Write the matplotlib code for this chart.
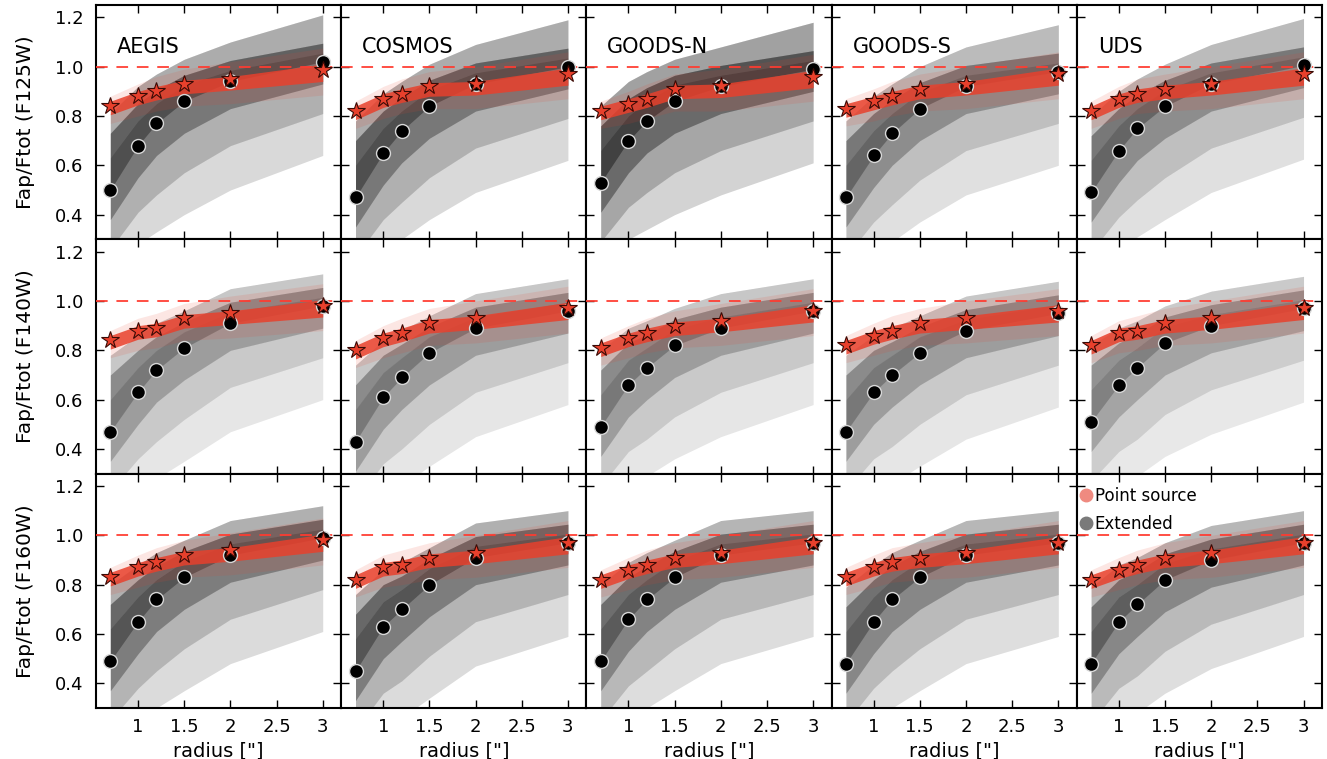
import numpy as np
import matplotlib
matplotlib.use("Agg")
import matplotlib.pyplot as plt
from matplotlib.lines import Line2D

# ---------------- data ----------------
fields = ["AEGIS", "COSMOS", "GOODS-N", "GOODS-S", "UDS"]
filters = ["F125W", "F140W", "F160W"]
radii = [0.7, 1.0, 1.2, 1.5, 2.0, 3.0]

# median point-source curves (stars), rows = filters, cols = fields
ps_median = [
    [[0.84, 0.88, 0.90, 0.93, 0.95, 0.985],
     [0.82, 0.87, 0.89, 0.92, 0.93, 0.97],
     [0.82, 0.85, 0.87, 0.91, 0.92, 0.96],
     [0.83, 0.86, 0.88, 0.91, 0.93, 0.97],
     [0.82, 0.87, 0.89, 0.91, 0.93, 0.97]],
    [[0.84, 0.88, 0.89, 0.93, 0.95, 0.98],
     [0.80, 0.85, 0.87, 0.91, 0.93, 0.97],
     [0.81, 0.85, 0.87, 0.90, 0.92, 0.96],
     [0.82, 0.86, 0.88, 0.91, 0.93, 0.96],
     [0.82, 0.87, 0.88, 0.91, 0.93, 0.97]],
    [[0.83, 0.87, 0.89, 0.92, 0.94, 0.98],
     [0.82, 0.87, 0.88, 0.91, 0.93, 0.97],
     [0.82, 0.86, 0.88, 0.91, 0.93, 0.97],
     [0.83, 0.87, 0.89, 0.91, 0.93, 0.97],
     [0.82, 0.86, 0.88, 0.91, 0.93, 0.97]],
]

# median extended-source curves (circles)
ext_median = [
    [[0.50, 0.68, 0.77, 0.86, 0.94, 1.02],
     [0.47, 0.65, 0.74, 0.84, 0.93, 1.00],
     [0.53, 0.70, 0.78, 0.86, 0.92, 0.99],
     [0.47, 0.64, 0.73, 0.83, 0.92, 0.98],
     [0.49, 0.66, 0.75, 0.84, 0.93, 1.005]],
    [[0.47, 0.63, 0.72, 0.81, 0.91, 0.98],
     [0.43, 0.61, 0.69, 0.79, 0.89, 0.96],
     [0.49, 0.66, 0.73, 0.82, 0.89, 0.96],
     [0.47, 0.63, 0.70, 0.79, 0.88, 0.95],
     [0.51, 0.66, 0.73, 0.83, 0.90, 0.97]],
    [[0.49, 0.65, 0.74, 0.83, 0.92, 0.99],
     [0.45, 0.63, 0.70, 0.80, 0.91, 0.97],
     [0.49, 0.66, 0.74, 0.83, 0.92, 0.97],
     [0.48, 0.65, 0.74, 0.83, 0.92, 0.97],
     [0.48, 0.65, 0.72, 0.82, 0.90, 0.97]],
]

# spread of the extended-source curve cloud about its median (quantiles)
ext_q02 = [-0.36, -0.40, -0.44, -0.46, -0.44, -0.38]
ext_q10 = [-0.24, -0.27, -0.29, -0.29, -0.26, -0.21]
ext_q25 = [-0.12, -0.13, -0.13, -0.13, -0.11, -0.09]
ext_q75 = [0.13, 0.10, 0.08, 0.065, 0.045, 0.035]
ext_q90 = [0.23, 0.17, 0.135, 0.105, 0.085, 0.075]
ext_q98 = [[0.31, 0.24, 0.20, 0.17, 0.16, 0.19],
           [0.31, 0.23, 0.19, 0.15, 0.14, 0.13],
           [0.31, 0.23, 0.19, 0.15, 0.14, 0.13]]

# relative number of extended sources per panel (cloud darkness)
ext_weight = [[1.0, 1.0, 1.15, 0.8, 0.8],
              [0.65, 0.65, 0.65, 0.65, 0.6],
              [0.95, 0.95, 0.9, 0.85, 0.85]]

# spread of point-source curves about the star medians
ps_core_lo = [-0.035, -0.035, -0.035, -0.04, -0.045, -0.045]
ps_core_hi = [0.02, 0.02, 0.02, 0.015, 0.01, 0.025]
ps_halo_lo = [-0.07, -0.08, -0.08, -0.09, -0.10, -0.10]
ps_halo_hi = [0.04, 0.05, 0.06, 0.06, 0.07, 0.09]

# ---------------- figure ----------------
plt.rcParams['font.family'] = ['DejaVu Sans']
fig = plt.figure(figsize=(13.27, 7.59), dpi=100)
gs = fig.add_gridspec(3, 5, left=96/1327, right=1322/1327,
                      top=1-5/759, bottom=1-708/759, wspace=0, hspace=0)

RED = '#e8402c'
r = np.array(radii)

for i, filt in enumerate(filters):
    for j, field in enumerate(fields):
        ax = fig.add_subplot(gs[i, j])
        med = np.array(ext_median[i][j])
        w = ext_weight[i][j]
        q02 = med + np.array(ext_q02)
        q10 = med + np.array(ext_q10)
        q25 = med + np.array(ext_q25)
        q75 = med + np.array(ext_q75)
        q90 = med + np.array(ext_q90)
        q98 = med + np.array(ext_q98[i])
        bands = [(q02, q98, 0.15), (q10, q98, 0.07), (q10, q90, 0.12),
                 (q25, q90, 0.16), (q25, q75, 0.18), (med, q90, 0.22),
                 (med, q75, 0.15), (q75, q98, 0.14)]
        for lo, hi, a in bands:
            ax.fill_between(r, lo, hi, color='black', alpha=min(a * w, 0.9),
                            linewidth=0, zorder=1)

        ps = np.array(ps_median[i][j])
        ax.fill_between(r, ps + np.array(ps_halo_lo), ps + np.array(ps_halo_hi),
                        color=RED, alpha=0.13, linewidth=0, zorder=2)
        ax.fill_between(r, ps + np.array(ps_core_lo), ps + np.array(ps_core_hi),
                        color=RED, alpha=0.85, linewidth=0, zorder=2)

        ax.axhline(1.0, color='#ff3b30', lw=1.4, ls=(0, (6, 4.5)), alpha=0.9, zorder=3)

        ax.plot(r, med, ls='none', marker='o', ms=10, mfc='black',
                mec='#d8d8d8', mew=1.0, zorder=5)
        ax.plot(r, ps, ls='none', marker='*', ms=13, mfc=RED,
                mec='#3a0a05', mew=0.8, zorder=6)

        ax.set_xlim(0.545, 3.2)
        ax.set_ylim(0.3, 1.25)
        ax.set_xticks([1, 1.5, 2, 2.5, 3])
        ax.set_yticks([0.4, 0.6, 0.8, 1.0, 1.2])
        ax.tick_params(direction='in', length=6, width=1.0, top=True, right=True,
                       labelsize=13)
        ax.tick_params(axis='y', pad=9)
        ax.tick_params(axis='x', pad=7)
        for s in ax.spines.values():
            s.set_linewidth(1.5)
        if j == 0:
            ax.set_yticklabels(['0.4', '0.6', '0.8', '1.0', '1.2'])
            ax.set_ylabel('Fap/Ftot (%s)' % filt, fontsize=14.5, labelpad=14)
        else:
            ax.set_yticklabels([])
        if i == 2:
            ax.set_xticklabels(['1', '1.5', '2', '2.5', '3'])
            ax.set_xlabel('radius ["]', fontsize=14, labelpad=4)
        else:
            ax.set_xticklabels([])
        if i == 0:
            ax.text(0.085, 0.82, field, transform=ax.transAxes, fontsize=15,
                    ha='left', va='center', zorder=7)
        if i == 2 and j == 4:
            handles = [Line2D([], [], ls='none', marker='o', ms=9,
                              mfc='#ef8a80', mec='#ef8a80', label='Point source'),
                       Line2D([], [], ls='none', marker='o', ms=9,
                              mfc='#7a7a7a', mec='#7a7a7a', label='Extended')]
            ax.legend(handles=handles, loc='upper left', frameon=False,
                      bbox_to_anchor=(-0.025, 0.985),
                      fontsize=12, handlelength=0.6, handletextpad=0.25,
                      borderaxespad=0.0, borderpad=0.6, labelspacing=0.6)

fig.savefig('out.png', dpi=100)
